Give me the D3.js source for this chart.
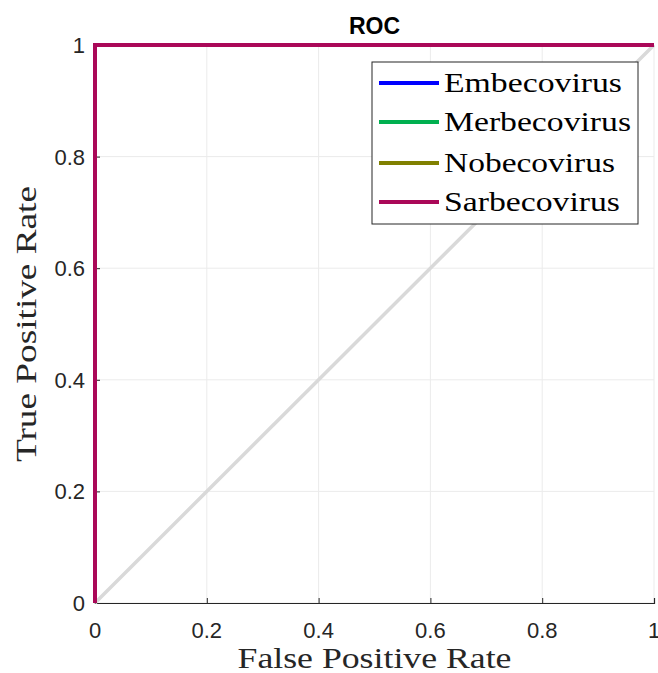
<!DOCTYPE html>
<html>
<head>
<meta charset="utf-8">
<script src="https://cdn.jsdelivr.net/npm/d3@7"></script>
<style>
  html, body { margin: 0; padding: 0; background: #fff; }
  svg { display: block; }
</style>
</head>
<body>
<div id="chart"></div>
<script>
// ROC data: every class reaches perfect separation
const seriesNames = ['Embecovirus', 'Merbecovirus', 'Nobecovirus', 'Sarbecovirus'];
const seriesColors = ['#0000ff', '#00b050', '#808000', '#aa0858'];
const fpr = [0, 0, 1];
const tpr = [0, 1, 1];
const chanceX = [0, 1];
const chanceY = [0, 1];
const tickValues = [0, 0.2, 0.4, 0.6, 0.8, 1];

const width = 658, height = 673;
const m = { top: 45, right: 4, bottom: 70, left: 95 };

const svg = d3.select('#chart').append('svg')
  .attr('width', width).attr('height', height)
  .attr('viewBox', `0 0 ${width} ${height}`);

const x = d3.scaleLinear().domain([0, 1]).range([m.left, width - m.right]);
const y = d3.scaleLinear().domain([0, 1]).range([height - m.bottom, m.top]);

// grid
const grid = svg.append('g');
grid.selectAll('.gx').data(tickValues).join('line')
  .attr('x1', d => x(d)).attr('x2', d => x(d))
  .attr('y1', y(0)).attr('y2', y(1))
  .attr('stroke', '#ebebeb').attr('stroke-width', 1);
grid.selectAll('.gy').data(tickValues).join('line')
  .attr('x1', x(0)).attr('x2', x(1))
  .attr('y1', d => y(d)).attr('y2', d => y(d))
  .attr('stroke', '#ebebeb').attr('stroke-width', 1);

// axes (ticks inward)
const fmt = d => d === 0 || d === 1 ? String(d) : d.toFixed(1);
const xAxis = svg.append('g').attr('transform', `translate(0,${y(0)})`)
  .call(d3.axisTop(x).tickValues(tickValues).tickSize(5).tickFormat(''));
const yAxis = svg.append('g').attr('transform', `translate(${x(0)},0)`)
  .call(d3.axisRight(y).tickValues(tickValues).tickSize(5).tickFormat(''));
[xAxis, yAxis].forEach(g => {
  g.select('.domain').attr('stroke', '#262626').attr('stroke-width', 1.2);
  g.selectAll('.tick line').attr('stroke', '#262626').attr('stroke-width', 1);
});

// tick labels
svg.append('g').selectAll('text').data(tickValues).join('text')
  .attr('x', d => x(d)).attr('y', y(0) + 35)
  .attr('text-anchor', 'middle')
  .attr('font-family', 'Liberation Sans, Arial, sans-serif').attr('font-size', 22)
  .attr('fill', '#262626').text(fmt);
svg.append('g').selectAll('text').data(tickValues).join('text')
  .attr('x', x(0) - 10).attr('y', d => y(d) + 8)
  .attr('text-anchor', 'end')
  .attr('font-family', 'Liberation Sans, Arial, sans-serif').attr('font-size', 22)
  .attr('fill', '#262626').text(fmt);

// chance diagonal
const line = d3.line().x(d => x(d[0])).y(d => y(d[1]));
svg.append('path').datum(d3.zip(chanceX, chanceY))
  .attr('d', line).attr('fill', 'none')
  .attr('stroke', '#d9d9d9').attr('stroke-width', 3.5);

// ROC curves (last drawn on top)
seriesNames.forEach((name, i) => {
  svg.append('path').datum(d3.zip(fpr, tpr))
    .attr('d', line).attr('fill', 'none')
    .attr('stroke', seriesColors[i]).attr('stroke-width', 4)
    .attr('stroke-linejoin', 'miter').attr('stroke-linecap', 'butt');
});

// title and labels
svg.append('text').attr('x', x(0.5)).attr('y', 34)
  .attr('text-anchor', 'middle')
  .attr('font-family', 'Liberation Sans, Arial, sans-serif')
  .attr('font-weight', 'bold').attr('font-size', 23)
  .attr('fill', '#000').text('ROC');
svg.append('text').attr('x', x(0.5)).attr('y', 668)
  .attr('text-anchor', 'middle')
  .attr('font-family', 'Liberation Serif, Times New Roman, serif').attr('font-size', 29)
  .attr('textLength', 274).attr('lengthAdjust', 'spacingAndGlyphs')
  .attr('fill', '#262626').text('False Positive Rate');
svg.append('text')
  .attr('transform', `translate(36,${y(0.5)}) rotate(-90)`)
  .attr('text-anchor', 'middle')
  .attr('font-family', 'Liberation Serif, Times New Roman, serif').attr('font-size', 29)
  .attr('textLength', 276).attr('lengthAdjust', 'spacingAndGlyphs')
  .attr('fill', '#262626').text('True Positive Rate');

// legend
const lg = svg.append('g').attr('transform', 'translate(372,62)');
lg.append('rect').attr('width', 266).attr('height', 162)
  .attr('fill', '#fff').attr('stroke', '#262626').attr('stroke-width', 1);
const rowY = [21, 60, 101, 140];
const nameLen = [178, 187, 171, 176];
seriesNames.forEach((name, i) => {
  lg.append('line').attr('x1', 7).attr('x2', 67)
    .attr('y1', rowY[i]).attr('y2', rowY[i])
    .attr('stroke', seriesColors[i]).attr('stroke-width', 4);
  lg.append('text').attr('x', 72).attr('y', rowY[i] + 9)
    .attr('font-family', 'Liberation Serif, Times New Roman, serif').attr('font-size', 28)
    .attr('textLength', nameLen[i]).attr('lengthAdjust', 'spacingAndGlyphs')
    .attr('fill', '#000').text(name);
});
</script>
</body>
</html>
